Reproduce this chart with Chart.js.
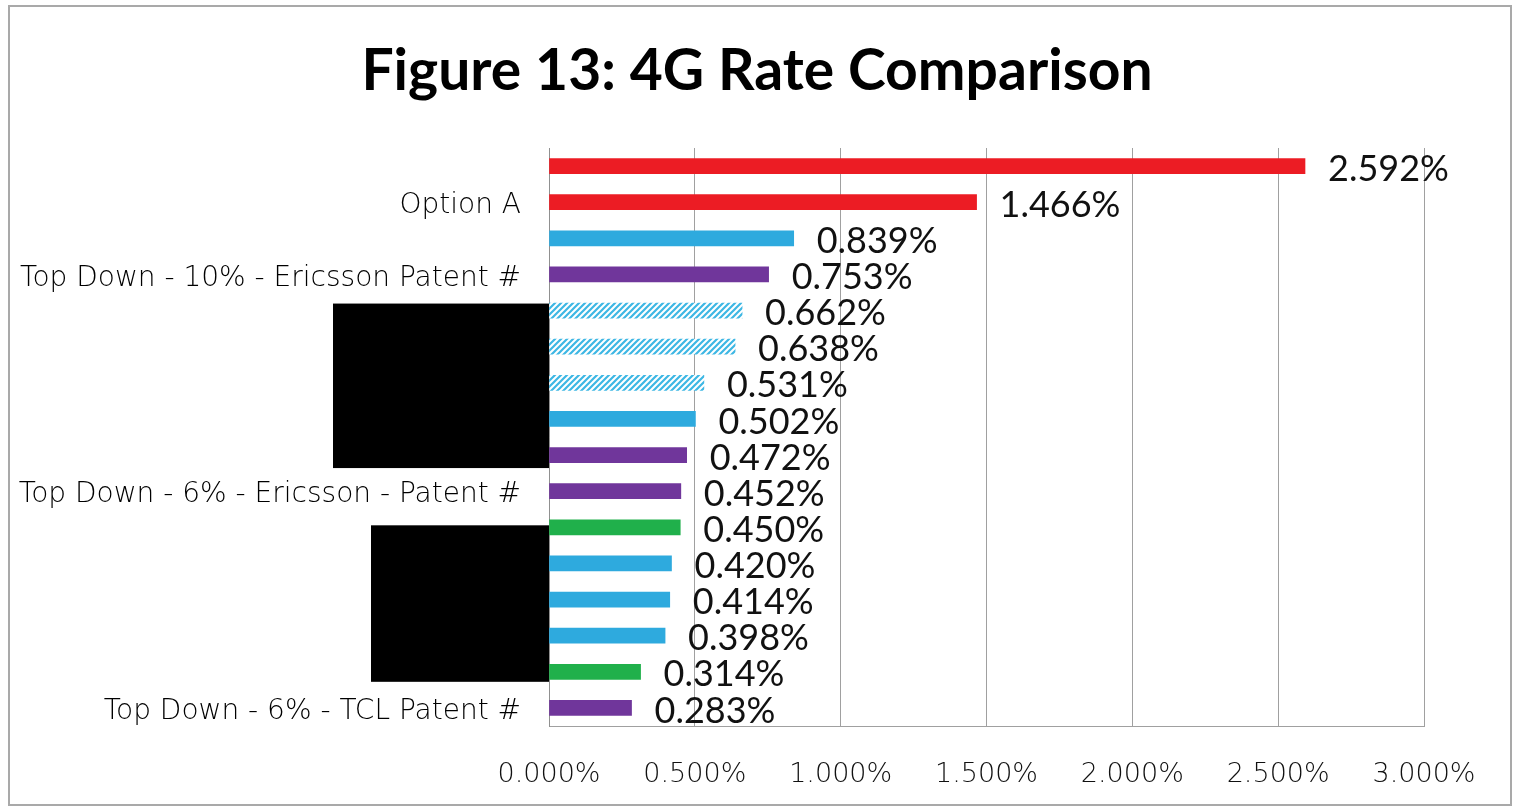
<!DOCTYPE html>
<html>
<head>
<meta charset="utf-8">
<script src="https://cdn.jsdelivr.net/npm/chart.js@4.4.1/dist/chart.umd.min.js"></script>
<style>
  html, body { margin: 0; padding: 0; background: #fff; }
  #wrap { position: relative; width: 1519px; height: 809px; }
</style>
</head>
<body>
<div id="wrap"><canvas id="rateChart"></canvas></div>
<script>
// Figure 13 data (percent)
const chartTitle = 'Figure 13: 4G Rate Comparison';
const categories = ['', 'Option A', '', 'Top Down - 10% - Ericsson Patent #', '', '', '', '', '',
    'Top Down - 6% - Ericsson - Patent #', '', '', '', '', '', 'Top Down - 6% - TCL Patent #'];
const rates = [2.592, 1.466, 0.839, 0.753, 0.662, 0.638, 0.531, 0.502, 0.472, 0.452, 0.450, 0.420, 0.414, 0.398, 0.314, 0.283];
const groups = ['red', 'red', 'blue', 'purple', 'hatch', 'hatch', 'hatch', 'blue', 'purple', 'purple',
    'green', 'blue', 'blue', 'blue', 'green', 'purple'];
const xMin = 0, xMax = 3, xStep = 0.5;

// redacted label blocks (category index range + left edge)
const redactions = [
    { from: 4, to: 8, left: 333, top: -7, bottom: 13 },
    { from: 10, to: 14, left: 371, top: -2, bottom: 10 }
];

function makeHatch() {
    const c = document.createElement('canvas');
    c.width = 6; c.height = 6;
    const g = c.getContext('2d');
    g.fillStyle = '#ffffff';
    g.fillRect(0, 0, 6, 6);
    g.strokeStyle = '#3db7e4';
    g.lineWidth = 2.2;
    g.beginPath();
    g.moveTo(-1, 7); g.lineTo(7, -1);
    g.moveTo(-4, 4); g.lineTo(4, -4);
    g.moveTo(2, 10); g.lineTo(10, 2);
    g.stroke();
    return g.createPattern(c, 'repeat');
}

const palette = {
    red: '#ec1c24',
    blue: '#2eaade',
    purple: '#70369b',
    green: '#20b04b',
    hatch: makeHatch()
};

const frame = {
    id: 'frame',
    beforeDraw(chart) {
        const ctx = chart.ctx;
        ctx.save();
        ctx.fillStyle = '#fff';
        ctx.fillRect(0, 0, chart.width, chart.height);
        ctx.strokeStyle = '#a9a9a9';
        ctx.lineWidth = 2;
        ctx.strokeRect(9, 6, 1502, 799);
        // title
        ctx.fillStyle = '#000';
        ctx.font = 'bold 57px Lato';
        ctx.textAlign = 'center';
        ctx.textBaseline = 'middle';
        ctx.fillText(chartTitle, 757, 72);
        ctx.restore();
    },
    afterDraw(chart) {
        const ctx = chart.ctx;
        const y = chart.scales.y;
        const area = chart.chartArea;
        ctx.save();
        // value labels
        const meta = chart.getDatasetMeta(0);
        ctx.fillStyle = '#111';
        ctx.font = '36px Lato';
        ctx.textAlign = 'left';
        ctx.textBaseline = 'middle';
        meta.data.forEach((bar, i) => {
            ctx.fillText(rates[i].toFixed(3) + '%', bar.x + 23, bar.y + 3);
        });
        // black redaction boxes
        ctx.fillStyle = '#000';
        redactions.forEach(r => {
            const t = y.getPixelForValue(r.from) + r.top;
            const b = y.getPixelForValue(r.to) + r.bottom;
            ctx.fillRect(r.left, t, area.left - r.left, b - t);
        });
        ctx.restore();
    }
};

const ctx = document.getElementById('rateChart').getContext('2d');
const rateChart = new Chart(ctx, {
    type: 'bar',
    data: {
        labels: categories,
        datasets: [{
            label: '4G Rate',
            data: rates,
            backgroundColor: groups.map(g => palette[g]),
            barThickness: 15
        }]
    },
    options: {
        indexAxis: 'y',
        responsive: true,
        maintainAspectRatio: false,
        animation: false,
        layout: { padding: { left: 0, right: 95, top: 148, bottom: 0 } },
        plugins: {
            legend: { display: false },
            tooltip: { enabled: false },
            title: { display: false }
        },
        scales: {
            x: {
                min: xMin,
                max: xMax,
                ticks: {
                    stepSize: xStep,
                    padding: 33,
                    color: '#111',
                    font: { family: 'DejaVu Sans', size: 27, weight: 200 },
                    callback: v => v.toFixed(3) + '%'
                },
                grid: { color: '#a0a0a0', drawTicks: false },
                border: { color: '#a0a0a0' },
                afterFit: s => { s.height = 83; }
            },
            y: {
                ticks: {
                    padding: 20,
                    labelOffset: 4,
                    color: '#000',
                    autoSkip: false,
                    font: { family: 'DejaVu Sans', size: 28, weight: 200 }
                },
                grid: { display: false },
                border: { color: '#909090' },
                afterFit: s => { s.width = 549; }
            }
        }
    },
    plugins: [frame]
});
</script>
</body>
</html>
